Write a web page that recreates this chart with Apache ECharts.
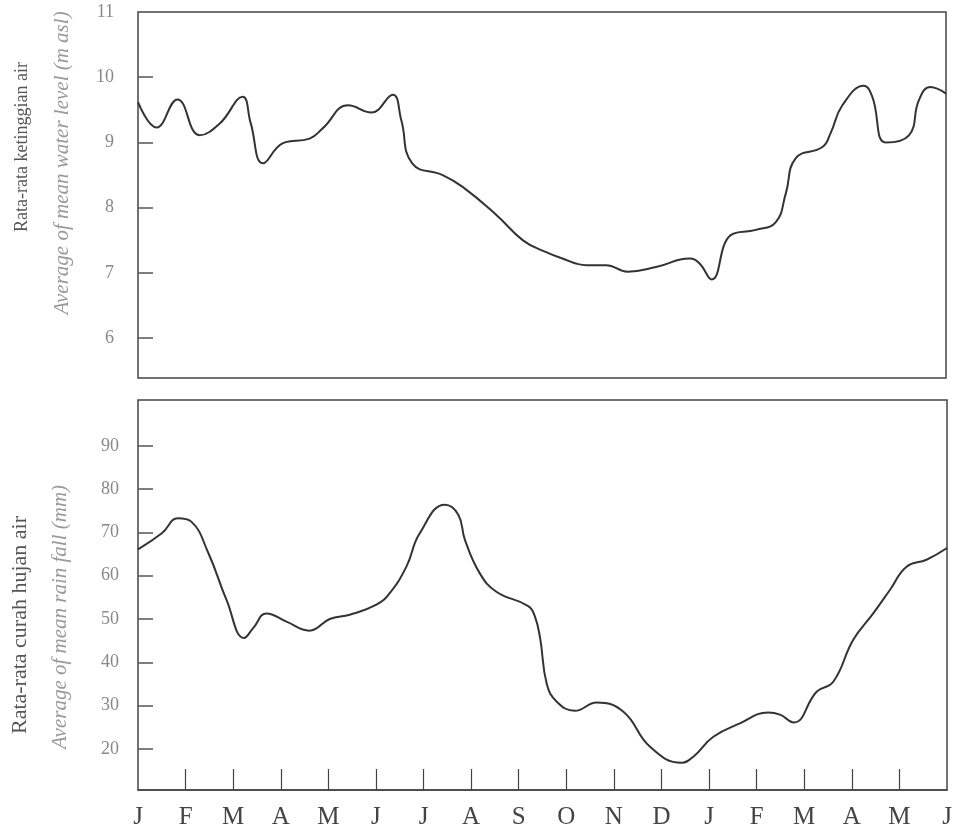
<!DOCTYPE html>
<html>
<head>
<meta charset="utf-8">
<script src="https://cdn.jsdelivr.net/npm/echarts@6/dist/echarts.min.js"></script>
<style>
  html, body { margin: 0; padding: 0; background: #fff; }
  #chart { width: 959px; height: 830px; }
</style>
</head>
<body>
<div id="chart"></div>
<script>
// month letters along the bottom axis (two Januaries to June)
var monthLabels = ["J", "F", "M", "A", "M", "J", "J", "A", "S", "O", "N", "D", "J", "F", "M", "A", "M", "J"];

// mean water level (m asl)
var waterMonth = [0, 0.39, 0.83, 1.30, 1.72, 2.20, 2.37, 2.63, 3.05, 3.61, 3.89, 4.42, 4.91, 5.36, 5.54, 5.77,
  6.41, 6.83, 7.54, 8.10, 8.55, 8.90, 9.43, 9.85, 10.30, 10.90, 11.60, 11.81, 12.07, 12.47, 13.00, 13.42,
  13.63, 13.84, 14.40, 14.57, 14.82, 15.27, 15.45, 15.73, 16.22, 16.43, 16.67, 17.00];
var waterLevel = [9.62, 9.23, 9.66, 9.11, 9.29, 9.70, 9.30, 8.68, 8.99, 9.06, 9.22, 9.57, 9.46, 9.73, 9.34, 8.68,
  8.50, 8.32, 7.89, 7.50, 7.33, 7.23, 7.12, 7.12, 7.02, 7.09, 7.22, 7.15, 6.90, 7.58, 7.66, 7.78,
  8.22, 8.76, 8.93, 9.14, 9.57, 9.87, 9.70, 9.00, 9.11, 9.65, 9.85, 9.75];

// mean rain fall (mm)
var rainMonth = [0, 0.50, 0.84, 1.12, 1.48, 1.86, 2.23, 2.42, 2.70, 3.12, 3.60, 4.03, 4.45, 5.01, 5.29, 5.64,
  5.92, 6.45, 6.73, 6.87, 7.18, 7.53, 8.20, 8.34, 8.45, 8.59, 8.80, 9.18, 9.64, 10.20, 10.76, 11.42,
  11.67, 12.09, 12.65, 13.24, 13.49, 13.78, 14.26, 14.61, 15.03, 15.45, 15.80, 16.15, 16.57, 17.00];
var rainFall = [66.1, 69.8, 73.3, 72.5, 65.2, 54.4, 45.6, 47.9, 51.3, 49.4, 47.3, 50.0, 51.0, 53.3, 56.0, 62.1,
  69.8, 76.4, 74.1, 68.3, 60.6, 56.3, 53.0, 50.6, 45.6, 35.0, 30.9, 28.8, 30.7, 28.6, 20.5, 16.8,
  18.2, 22.8, 25.9, 28.4, 27.9, 26.1, 33.2, 35.5, 45.2, 51.3, 56.7, 62.1, 63.7, 66.4];

// tick values
var waterTicks = [6, 7, 8, 9, 10, 11];
var rainTicks = [20, 30, 40, 50, 60, 70, 80, 90];
var monthTicks = [1, 2, 3, 4, 5, 6, 7, 8, 9, 10, 11, 12, 13, 14, 15, 16];

var serif = "'Liberation Serif', 'DejaVu Serif', serif";

function zip(xs, ys) {
  return xs.map(function (x, i) { return [x, ys[i]]; });
}

var monthIdx = monthLabels.map(function (m, i) { return i; });

var chart = echarts.init(document.getElementById("chart"));

var lineStyle = { color: "#333", width: 2 };

var option = {
  backgroundColor: "#fff",
  animation: false,
  grid: [
    { left: 138, right: 13, top: 12, height: 366, show: true, borderColor: "#444", borderWidth: 1.5 },
    { left: 138, right: 12, top: 400, height: 390, show: true, borderColor: "#444", borderWidth: 1.5 }
  ],
  xAxis: [
    {
      gridIndex: 0, type: "value", min: 0, max: 17,
      axisLine: { show: false }, axisTick: { show: false }, axisLabel: { show: false }, splitLine: { show: false }
    },
    {
      gridIndex: 1, type: "value", min: 0, max: 17,
      axisLine: { show: true, lineStyle: { color: "#444", width: 1.5 } },
      axisTick: { show: true, inside: true, length: 21, customValues: monthTicks, lineStyle: { color: "#444", width: 1.2 } },
      axisLabel: {
        customValues: monthIdx, margin: 15, color: "#444", fontSize: 25, fontFamily: serif,
        formatter: function (v) { return monthLabels[Math.round(v)]; }
      },
      splitLine: { show: false }
    }
  ],
  yAxis: [
    {
      gridIndex: 0, type: "value", min: 5.39, max: 11,
      axisLine: { show: false },
      axisTick: { show: true, inside: true, length: 15, customValues: [6, 7, 8, 9, 10], lineStyle: { color: "#555", width: 1.5 } },
      axisLabel: { customValues: waterTicks, margin: 24, color: "#888", fontSize: 18, fontFamily: serif },
      splitLine: { show: false }
    },
    {
      gridIndex: 1, type: "value", min: 10.5, max: 100.6,
      axisLine: { show: false },
      axisTick: { show: true, inside: true, length: 15, customValues: rainTicks, lineStyle: { color: "#555", width: 1.5 } },
      axisLabel: { customValues: rainTicks, margin: 19, color: "#888", fontSize: 18, fontFamily: serif },
      splitLine: { show: false }
    }
  ],
  graphic: [
    {
      type: "text", x: 22, y: 147, rotation: Math.PI / 2,
      style: { text: "Rata-rata ketinggian air", fill: "#555", font: "18px " + serif, align: "center", verticalAlign: "middle" }
    },
    {
      type: "text", x: 62, y: 163, rotation: Math.PI / 2,
      style: { text: "Average of mean water level (m asl)", fill: "#999", font: "italic 21px " + serif, align: "center", verticalAlign: "middle" }
    },
    {
      type: "text", x: 20, y: 625, rotation: Math.PI / 2,
      style: { text: "Rata-rata curah hujan air", fill: "#555", font: "22px " + serif, align: "center", verticalAlign: "middle" }
    },
    {
      type: "text", x: 60, y: 617, rotation: Math.PI / 2,
      style: { text: "Average of mean rain fall (mm)", fill: "#999", font: "italic 21px " + serif, align: "center", verticalAlign: "middle" }
    }
  ],
  series: [
    {
      type: "line", xAxisIndex: 0, yAxisIndex: 0, data: zip(waterMonth, waterLevel),
      smooth: 0.45, showSymbol: false, lineStyle: lineStyle
    },
    {
      type: "line", xAxisIndex: 1, yAxisIndex: 1, data: zip(rainMonth, rainFall),
      smooth: 0.45, showSymbol: false, lineStyle: lineStyle
    }
  ]
};

chart.setOption(option);
</script>
</body>
</html>
